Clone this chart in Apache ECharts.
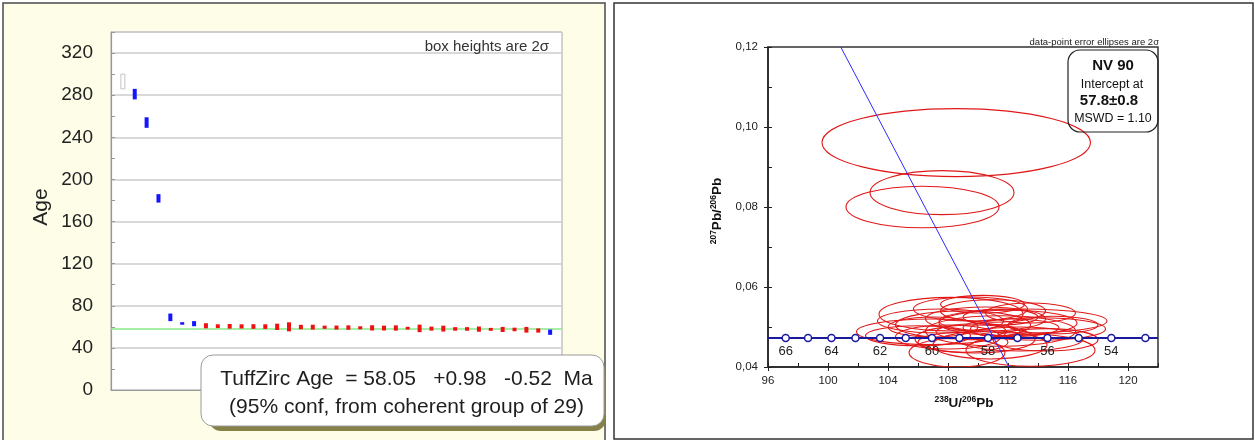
<!DOCTYPE html>
<html>
<head>
<meta charset="utf-8">
<script src="https://cdn.jsdelivr.net/npm/echarts@6/dist/echarts.min.js"></script>
<style>
  html, body { margin: 0; padding: 0; background: #ffffff; }
  #chart { width: 1255px; height: 440px; }
</style>
</head>
<body>
<div id="chart"></div>
<script>
// ---------- Left panel: ranked spot ages (box = age ± 2σ) ----------
const spotAge = [293, 281, 254, 182, 69, 63.2, 63.0,
  61.0, 60.6, 60.5, 60.4, 60.3, 60.2, 60.0, 60.0, 59.8, 59.7, 59.6, 59.3, 59.3, 59.1,
  59.0, 58.8, 58.9, 58.7, 58.5, 58.3, 58.3, 58.0, 58.0, 57.8, 57.6, 57.5, 57.5, 57.2, 56.5,
  54.9];
const spotErr = [7, 5, 5, 4, 3.6, 1.2, 2.4,
  2.4, 1.8, 2.2, 2.0, 2.2, 2.2, 3.0, 4.3, 2.1, 2.3, 1.5, 1.9, 2.1, 1.4,
  2.5, 2.3, 2.5, 1.3, 3.6, 1.9, 2.8, 1.7, 1.7, 2.5, 1.4, 2.4, 1.7, 2.7, 2.0,
  2.5];
// x = excluded, b = rejected, r = coherent group
const spotGroup = ['x', 'b', 'b', 'b', 'b', 'b', 'b',
  'r', 'r', 'r', 'r', 'r', 'r', 'r', 'r', 'r', 'r', 'r', 'r', 'r', 'r',
  'r', 'r', 'r', 'r', 'r', 'r', 'r', 'r', 'r', 'r', 'r', 'r', 'r', 'r', 'r',
  'b'];
const tuffZircAge = 58.05;
const spotAxisMax = 38;

// ---------- Right panel: Tera-Wasserburg concordia ----------
const ellX  = [108.55, 107.6, 106.3, 110.3, 108.2, 106.9, 107.5, 109.0, 110.5, 112.0, 113.0, 114.0, 111.5, 108.0, 109.8,
               112.8, 114.5, 108.6, 113.5, 110.8, 107.0, 111.0, 113.5, 109.5, 112.2, 110.0, 115.0, 106.0, 109.0, 111.5];
const ellY  = [0.0961, 0.0836, 0.0800, 0.0557, 0.0532, 0.0488, 0.0515, 0.0505, 0.0520, 0.0510, 0.0515, 0.0495, 0.0490, 0.0475, 0.0470,
               0.0470, 0.0468, 0.0436, 0.0442, 0.0455, 0.0500, 0.0540, 0.0535, 0.0545, 0.0498, 0.0488, 0.0505, 0.0478, 0.0462, 0.0525];
const ellRx = [8.95, 4.8, 5.1, 2.8, 4.8, 5.0, 4.2, 4.5, 4.0, 4.6, 5.6, 4.5, 5.0, 3.5, 4.0,
               4.2, 3.5, 3.2, 4.3, 3.8, 3.0, 3.5, 3.0, 3.8, 3.2, 2.8, 3.0, 3.5, 3.0, 2.5];
const ellRy = [0.0085, 0.0055, 0.0052, 0.0022, 0.0042, 0.0032, 0.0030, 0.0035, 0.0030, 0.0032, 0.0030, 0.0028, 0.0038, 0.0030, 0.0035,
               0.0030, 0.0028, 0.0036, 0.0040, 0.0035, 0.0025, 0.0028, 0.0025, 0.0030, 0.0022, 0.0020, 0.0022, 0.0025, 0.0025, 0.0020];

const concordiaAge = [66, 65, 64, 63, 62, 61, 60, 59, 58, 57, 56, 55, 54, 53];
const concordiaX   = [97.18, 98.67, 100.23, 101.83, 103.47, 105.18, 106.93, 108.76, 110.67, 112.63, 114.63, 116.71, 118.89, 121.16];
const concordiaY   = [0.04725, 0.04725, 0.04725, 0.04725, 0.04725, 0.04725, 0.04725, 0.04725, 0.04725, 0.04725, 0.04725, 0.04725, 0.04725, 0.04725];
const concordiaEdgeX = [96, 122];
const concordiaEdgeY = [0.04725, 0.04725];

const regressionX = [100.85, 112.07];
const regressionY = [0.12, 0.04];

// ---------- build series data ----------
const spotData = spotAge.map((a, i) => [i + 1, a, spotErr[i], spotGroup[i]]);
const ellipseData = ellX.map((x, i) => [x, ellY[i], ellRx[i], ellRy[i]]);
const markerData = concordiaX.map((x, i) => [x, concordiaY[i], concordiaAge[i]]);
const curveData = [[concordiaEdgeX[0], concordiaEdgeY[0]]]
  .concat(concordiaX.map((x, i) => [x, concordiaY[i]]))
  .concat([[concordiaEdgeX[1], concordiaEdgeY[1]]]);
const regressionData = regressionX.map((x, i) => [x, regressionY[i]]);

const FONT = '"Liberation Sans", Arial, sans-serif';

const boxColors = {
  x: { fill: '#ffffff', stroke: '#c4c4c4', lineWidth: 1 },
  b: { fill: '#1414ff', stroke: null, lineWidth: 0 },
  r: { fill: '#ee1111', stroke: null, lineWidth: 0 }
};

const option = {
  backgroundColor: '#ffffff',
  animation: false,
  textStyle: { fontFamily: FONT },
  grid: [
    { left: 111, top: 32, width: 451, height: 358, show: true, backgroundColor: '#ffffff',
      borderColor: '#a8a8a8', borderWidth: 1, outerBoundsMode: 'none', containLabel: false },
    { left: 768, top: 47, width: 390, height: 320, show: true, backgroundColor: 'rgba(0,0,0,0)',
      borderColor: '#333333', borderWidth: 1.5, outerBoundsMode: 'none', containLabel: false }
  ],
  xAxis: [
    { gridIndex: 0, type: 'value', min: 0, max: spotAxisMax, position: 'bottom',
      axisLine: { show: true, lineStyle: { color: '#999999', width: 1.2 } },
      axisTick: { show: false }, axisLabel: { show: false }, splitLine: { show: false } },
    { gridIndex: 1, type: 'value', min: 96, max: 122, interval: 4, position: 'bottom',
      axisLine: { show: true, onZero: false, lineStyle: { color: '#222222', width: 1.5 } },
      axisTick: { show: true, inside: false, length: 4, lineStyle: { color: '#222222' } },
      axisLabel: { show: true, fontSize: 11.5, color: '#222222', margin: 8, showMaxLabel: false, fontFamily: FONT },
      splitLine: { show: false } },
    { gridIndex: 1, type: 'value', min: 96, max: 122, interval: 2, position: 'bottom',
      axisLine: { show: false }, axisLabel: { show: false }, splitLine: { show: false },
      axisTick: { show: true, inside: true, length: 4, lineStyle: { color: '#222222' } } }
  ],
  yAxis: [
    { gridIndex: 0, type: 'value', min: 0, max: 340, interval: 40, position: 'left',
      axisLine: { show: true, lineStyle: { color: '#999999', width: 1.2 } },
      axisTick: { show: false },
      axisLabel: { show: true, fontSize: 19, color: '#222222', margin: 18, showMaxLabel: false, fontFamily: FONT },
      splitLine: { show: true, lineStyle: { color: '#cdcdcd', width: 1.5 } } },
    { gridIndex: 0, type: 'value', min: 0, max: 340, interval: 20, position: 'left',
      axisLine: { show: false }, axisLabel: { show: false }, splitLine: { show: false },
      axisTick: { show: true, inside: true, length: 4, lineStyle: { color: '#999999' } } },
    { gridIndex: 1, type: 'value', min: 0.04, max: 0.12, interval: 0.02, position: 'left',
      axisLine: { show: true, onZero: false, lineStyle: { color: '#222222', width: 1.5 } },
      axisTick: { show: true, inside: false, length: 4, lineStyle: { color: '#222222' } },
      axisLabel: { show: true, fontSize: 11.5, color: '#222222', margin: 10, fontFamily: FONT,
        formatter: v => v.toFixed(2).replace('.', ',') },
      splitLine: { show: false } },
    { gridIndex: 1, type: 'value', min: 0.04, max: 0.12, interval: 0.01, position: 'left',
      axisLine: { show: false }, axisLabel: { show: false }, splitLine: { show: false },
      axisTick: { show: true, inside: true, length: 4, lineStyle: { color: '#222222' } } }
  ],
  series: [
    // TuffZirc age line
    { type: 'line', xAxisIndex: 0, yAxisIndex: 0, silent: true, z: 2,
      data: [[0, tuffZircAge], [spotAxisMax, tuffZircAge]], symbol: 'none',
      lineStyle: { color: '#88ea88', width: 1.5 } },
    // age boxes
    { type: 'custom', xAxisIndex: 0, yAxisIndex: 0, z: 3, clip: true,
      data: spotData,
      encode: { x: 0, y: 1 },
      renderItem: (params, api) => {
        const x = api.value(0), a = api.value(1), e = api.value(2);
        const g = spotData[params.dataIndex][3];
        const top = api.coord([x, a + e]);
        const bot = api.coord([x, a - e]);
        const c = boxColors[g];
        return {
          type: 'rect',
          shape: { x: top[0] - 2, y: top[1], width: 4, height: Math.max(bot[1] - top[1], 1.5) },
          style: { fill: c.fill, stroke: c.stroke, lineWidth: c.lineWidth }
        };
      } },
    // error ellipses
    { type: 'custom', xAxisIndex: 1, yAxisIndex: 2, z: 3, clip: true,
      data: ellipseData,
      encode: { x: 0, y: 1 },
      renderItem: (params, api) => {
        const c = api.coord([api.value(0), api.value(1)]);
        const s = api.size([api.value(2), api.value(3)]);
        return {
          type: 'path',
          shape: {
            pathData: 'M -1 0 A 1 1 0 1 0 1 0 A 1 1 0 1 0 -1 0 Z',
            layout: 'cover',
            x: c[0] - s[0], y: c[1] - s[1], width: 2 * s[0], height: 2 * s[1]
          },
          style: { fill: 'none', stroke: '#e01818', lineWidth: 1.1 }
        };
      } },
    // regression line
    { type: 'line', xAxisIndex: 1, yAxisIndex: 2, z: 4, silent: true, clip: true,
      data: regressionData, symbol: 'none',
      lineStyle: { color: '#2b2bff', width: 1 } },
    // concordia curve
    { type: 'line', xAxisIndex: 1, yAxisIndex: 2, z: 5, silent: true, clip: true,
      data: curveData, symbol: 'none',
      lineStyle: { color: '#1a1aa0', width: 2 } },
    // concordia age ticks
    { type: 'scatter', xAxisIndex: 1, yAxisIndex: 2, z: 6, silent: true,
      data: markerData, symbol: 'circle', symbolSize: 7,
      itemStyle: { color: '#ffffff', borderColor: '#1a1aa0', borderWidth: 1.5, opacity: 1 },
      label: { show: true, position: 'bottom', distance: 3, fontSize: 13, color: '#222222', fontFamily: FONT,
        formatter: p => (p.data[2] % 2 === 0 ? String(p.data[2]) : '') } }
  ],
  graphic: [
    // left panel frame
    { type: 'rect', z: -10, silent: true,
      shape: { x: 3, y: 3, width: 602, height: 445 },
      style: { fill: '#fefde8', stroke: '#4a4a4a', lineWidth: 1.5 } },
    // right panel frame
    { type: 'rect', z: -10, silent: true,
      shape: { x: 614, y: 3, width: 639, height: 436 },
      style: { fill: '#ffffff', stroke: '#333333', lineWidth: 1.5 } },
    // Age axis title
    { type: 'text', x: 41, y: 207, rotation: Math.PI / 2, z: 10, silent: true,
      style: { text: 'Age', fontSize: 21, fontFamily: FONT, fill: '#222222',
        align: 'center', verticalAlign: 'middle', textAlign: 'center', textVerticalAlign: 'middle' } },
    { type: 'text', x: 549, y: 47, z: 10, silent: true,
      style: { text: 'box heights are 2σ', fontSize: 15, fontFamily: FONT, fill: '#333333',
        align: 'right', verticalAlign: 'middle', textAlign: 'right', textVerticalAlign: 'middle' } },
    // TuffZirc result box
    { type: 'rect', z: 20, silent: true,
      shape: { x: 209, y: 361, width: 397, height: 70, r: 12 },
      style: { fill: '#868148' } },
    { type: 'rect', z: 21, silent: true,
      shape: { x: 201, y: 355, width: 403, height: 71, r: 12 },
      style: { fill: '#ffffff', stroke: '#9a9a9a', lineWidth: 1 } },
    { type: 'text', x: 406.5, y: 379, z: 22, silent: true,
      style: { text: 'TuffZirc Age  = 58.05   +0.98   -0.52  Ma', fontSize: 21, fontFamily: FONT, fill: '#1e1e1e',
        align: 'center', verticalAlign: 'middle', textAlign: 'center', textVerticalAlign: 'middle' } },
    { type: 'text', x: 406.5, y: 407, z: 22, silent: true,
      style: { text: '(95% conf, from coherent group of 29)', fontSize: 21, fontFamily: FONT, fill: '#1e1e1e',
        align: 'center', verticalAlign: 'middle', textAlign: 'center', textVerticalAlign: 'middle' } },
    // right panel texts
    { type: 'text', x: 1159, y: 42, z: 10, silent: true,
      style: { text: 'data-point error ellipses are 2σ', fontSize: 9.5, fontFamily: FONT, fill: '#222222',
        align: 'right', verticalAlign: 'middle', textAlign: 'right', textVerticalAlign: 'middle' } },
    { type: 'rect', z: 20, silent: true,
      shape: { x: 1068, y: 50, width: 90, height: 82, r: 12 },
      style: { fill: 'rgba(255,255,255,0)', stroke: '#222222', lineWidth: 1.2 } },
    { type: 'text', x: 1113, y: 66, z: 21, silent: true,
      style: { text: 'NV 90', fontSize: 15, fontWeight: 'bold', fontFamily: FONT, fill: '#111111',
        align: 'center', verticalAlign: 'middle', textAlign: 'center', textVerticalAlign: 'middle' } },
    { type: 'text', x: 1112, y: 85, z: 21, silent: true,
      style: { text: 'Intercept at', fontSize: 12.5, fontFamily: FONT, fill: '#111111',
        align: 'center', verticalAlign: 'middle', textAlign: 'center', textVerticalAlign: 'middle' } },
    { type: 'text', x: 1109, y: 101, z: 21, silent: true,
      style: { text: '57.8±0.8', fontSize: 15, fontWeight: 'bold', fontFamily: FONT, fill: '#111111',
        align: 'center', verticalAlign: 'middle', textAlign: 'center', textVerticalAlign: 'middle' } },
    { type: 'text', x: 1113, y: 119, z: 21, silent: true,
      style: { text: 'MSWD = 1.10', fontSize: 12.4, fontFamily: FONT, fill: '#111111',
        align: 'center', verticalAlign: 'middle', textAlign: 'center', textVerticalAlign: 'middle' } },
    // axis titles with superscripts
    { type: 'text', x: 964, y: 403, z: 10, silent: true,
      style: { text: '{s|238}{m|U/}{s|206}{m|Pb}', fontFamily: FONT, fill: '#111111',
        align: 'center', verticalAlign: 'middle', textAlign: 'center', textVerticalAlign: 'middle',
        rich: {
          s: { fontSize: 8.5, fontWeight: 'bold', fontFamily: FONT, fill: '#111111', verticalAlign: 'top', lineHeight: 10 },
          m: { fontSize: 13.5, fontWeight: 'bold', fontFamily: FONT, fill: '#111111', verticalAlign: 'bottom', lineHeight: 15 }
        } } },
    { type: 'text', x: 717, y: 211, rotation: Math.PI / 2, z: 10, silent: true,
      style: { text: '{s|207}{m|Pb/}{s|206}{m|Pb}', fontFamily: FONT, fill: '#111111',
        align: 'center', verticalAlign: 'middle', textAlign: 'center', textVerticalAlign: 'middle',
        rich: {
          s: { fontSize: 8.5, fontWeight: 'bold', fontFamily: FONT, fill: '#111111', verticalAlign: 'top', lineHeight: 10 },
          m: { fontSize: 13.5, fontWeight: 'bold', fontFamily: FONT, fill: '#111111', verticalAlign: 'bottom', lineHeight: 15 }
        } } }
  ]
};

const chart = echarts.init(document.getElementById('chart'));
chart.setOption(option);
</script>
</body>
</html>
